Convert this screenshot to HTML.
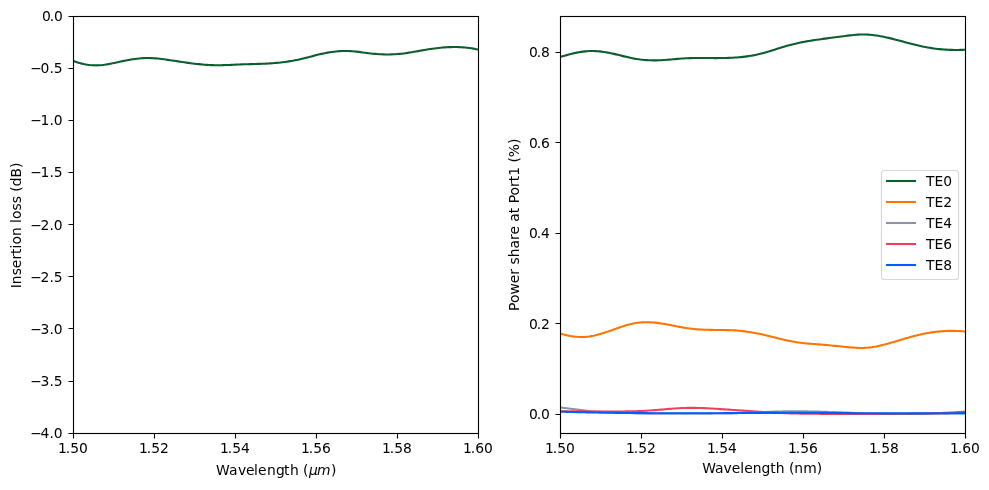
<!DOCTYPE html>
<html lang="en"><head><meta charset="utf-8"><title>Insertion loss and power share</title>
<style>html,body{margin:0;padding:0;background:#fff}body{width:989px;height:490px;overflow:hidden}svg{display:block}text{font-family:"DejaVu Sans","Liberation Sans",sans-serif;font-size:13.889px;fill:#000}.i{font-style:oblique}</style></head><body>
<svg width="989" height="490" viewBox="0 0 989 490">
<rect width="989" height="490" fill="#fff"/>
<defs><clipPath id="cl"><rect x="73" y="16" width="405" height="417"/></clipPath><clipPath id="cr"><rect x="560" y="16" width="405" height="417"/></clipPath></defs>
<g fill="none" stroke-width="2.083" stroke-linejoin="round" stroke-linecap="butt">
<path clip-path="url(#cl)" stroke="#0b5e2e" d="M71.5 60.15 L73.55 60.95 L75.6 61.74 L77.65 62.45 L79.7 63.08 L81.75 63.63 L83.8 64.1 L85.85 64.5 L87.9 64.81 L89.95 65.05 L92 65.22 L94.05 65.31 L96.1 65.34 L98.15 65.29 L100.2 65.18 L102.25 65 L104.3 64.76 L106.35 64.46 L108.4 64.12 L110.45 63.75 L112.51 63.34 L114.56 62.91 L116.61 62.47 L118.66 62.02 L120.71 61.57 L122.76 61.13 L124.81 60.71 L126.86 60.3 L128.91 59.92 L130.96 59.56 L133.01 59.24 L135.06 58.94 L137.11 58.68 L139.16 58.46 L141.21 58.29 L143.26 58.15 L145.31 58.07 L147.36 58.03 L149.41 58.05 L151.46 58.12 L153.51 58.23 L155.56 58.39 L157.61 58.57 L159.66 58.79 L161.71 59.04 L163.76 59.3 L165.81 59.58 L167.86 59.87 L169.91 60.17 L171.96 60.47 L174.01 60.78 L176.06 61.08 L178.11 61.39 L180.16 61.7 L182.21 62.01 L184.26 62.31 L186.31 62.6 L188.36 62.89 L190.41 63.17 L192.46 63.44 L194.52 63.69 L196.57 63.93 L198.62 64.16 L200.67 64.37 L202.72 64.55 L204.77 64.72 L206.82 64.87 L208.87 64.99 L210.92 65.09 L212.97 65.16 L215.02 65.2 L217.07 65.22 L219.12 65.21 L221.17 65.19 L223.22 65.14 L225.27 65.08 L227.32 65.01 L229.37 64.93 L231.42 64.84 L233.47 64.75 L235.52 64.66 L237.57 64.56 L239.62 64.48 L241.67 64.4 L243.72 64.32 L245.77 64.26 L247.82 64.2 L249.87 64.14 L251.92 64.09 L253.97 64.03 L256.02 63.98 L258.07 63.91 L260.12 63.85 L262.17 63.77 L264.22 63.69 L266.27 63.59 L268.32 63.49 L270.37 63.36 L272.42 63.22 L274.47 63.07 L276.53 62.89 L278.58 62.69 L280.63 62.48 L282.68 62.24 L284.73 61.98 L286.78 61.7 L288.83 61.39 L290.88 61.06 L292.93 60.7 L294.98 60.31 L297.03 59.9 L299.08 59.45 L301.13 58.98 L303.18 58.49 L305.23 57.98 L307.28 57.46 L309.33 56.93 L311.38 56.4 L313.43 55.87 L315.48 55.35 L317.53 54.84 L319.58 54.34 L321.63 53.87 L323.68 53.43 L325.73 53.02 L327.78 52.64 L329.83 52.29 L331.88 51.99 L333.93 51.72 L335.98 51.48 L338.03 51.3 L340.08 51.15 L342.13 51.05 L344.18 50.99 L346.23 50.99 L348.28 51.03 L350.33 51.13 L352.38 51.27 L354.43 51.45 L356.48 51.66 L358.54 51.89 L360.59 52.15 L362.64 52.41 L364.69 52.68 L366.74 52.95 L368.79 53.21 L370.84 53.45 L372.89 53.68 L374.94 53.88 L376.99 54.05 L379.04 54.19 L381.09 54.3 L383.14 54.38 L385.19 54.43 L387.24 54.45 L389.29 54.44 L391.34 54.39 L393.39 54.32 L395.44 54.21 L397.49 54.06 L399.54 53.89 L401.59 53.68 L403.64 53.43 L405.69 53.16 L407.74 52.86 L409.79 52.53 L411.84 52.2 L413.89 51.84 L415.94 51.48 L417.99 51.11 L420.04 50.74 L422.09 50.38 L424.14 50.01 L426.19 49.66 L428.24 49.32 L430.29 49 L432.34 48.7 L434.39 48.42 L436.44 48.16 L438.49 47.93 L440.55 47.72 L442.6 47.54 L444.65 47.39 L446.7 47.26 L448.75 47.16 L450.8 47.1 L452.85 47.06 L454.9 47.05 L456.95 47.08 L459 47.15 L461.05 47.24 L463.1 47.38 L465.15 47.55 L467.2 47.75 L469.25 48 L471.3 48.29 L473.35 48.61 L475.4 48.98 L477.45 49.4 L479.5 49.84"/>
<g clip-path="url(#cr)">
<path stroke="#0b5e2e" d="M558.5 57.37 L560.55 56.8 L562.6 56.24 L564.65 55.67 L566.7 55.12 L568.75 54.58 L570.8 54.05 L572.85 53.55 L574.9 53.08 L576.95 52.64 L579 52.25 L581.05 51.9 L583.1 51.6 L585.15 51.36 L587.2 51.18 L589.25 51.06 L591.3 51.01 L593.35 51.03 L595.4 51.1 L597.45 51.23 L599.51 51.41 L601.56 51.64 L603.61 51.92 L605.66 52.24 L607.71 52.6 L609.76 53 L611.81 53.43 L613.86 53.89 L615.91 54.36 L617.96 54.86 L620.01 55.36 L622.06 55.87 L624.11 56.37 L626.16 56.86 L628.21 57.34 L630.26 57.8 L632.31 58.22 L634.36 58.62 L636.41 58.97 L638.46 59.28 L640.51 59.56 L642.56 59.79 L644.61 59.98 L646.66 60.13 L648.71 60.25 L650.76 60.33 L652.81 60.37 L654.86 60.38 L656.91 60.35 L658.96 60.29 L661.01 60.2 L663.06 60.08 L665.11 59.95 L667.16 59.79 L669.21 59.63 L671.26 59.45 L673.31 59.27 L675.36 59.09 L677.41 58.91 L679.46 58.74 L681.52 58.58 L683.57 58.44 L685.62 58.32 L687.67 58.23 L689.72 58.15 L691.77 58.1 L693.82 58.06 L695.87 58.03 L697.92 58.02 L699.97 58.01 L702.02 58.02 L704.07 58.03 L706.12 58.04 L708.17 58.06 L710.22 58.07 L712.27 58.08 L714.32 58.09 L716.37 58.09 L718.42 58.08 L720.47 58.07 L722.52 58.04 L724.57 58.01 L726.62 57.95 L728.67 57.89 L730.72 57.81 L732.77 57.7 L734.82 57.58 L736.87 57.44 L738.92 57.28 L740.97 57.09 L743.02 56.88 L745.07 56.64 L747.12 56.37 L749.17 56.07 L751.22 55.73 L753.27 55.37 L755.32 54.97 L757.37 54.53 L759.42 54.06 L761.47 53.55 L763.53 53 L765.58 52.42 L767.63 51.81 L769.68 51.19 L771.73 50.55 L773.78 49.89 L775.83 49.24 L777.88 48.58 L779.93 47.93 L781.98 47.28 L784.03 46.66 L786.08 46.05 L788.13 45.47 L790.18 44.92 L792.23 44.4 L794.28 43.9 L796.33 43.42 L798.38 42.98 L800.43 42.55 L802.48 42.14 L804.53 41.75 L806.58 41.38 L808.63 41.03 L810.68 40.69 L812.73 40.37 L814.78 40.05 L816.83 39.75 L818.88 39.46 L820.93 39.18 L822.98 38.9 L825.03 38.62 L827.08 38.35 L829.13 38.09 L831.18 37.82 L833.23 37.55 L835.28 37.29 L837.33 37.02 L839.38 36.74 L841.43 36.46 L843.48 36.18 L845.54 35.91 L847.59 35.65 L849.64 35.4 L851.69 35.18 L853.74 34.97 L855.79 34.8 L857.84 34.66 L859.89 34.56 L861.94 34.5 L863.99 34.49 L866.04 34.53 L868.09 34.63 L870.14 34.78 L872.19 34.97 L874.24 35.21 L876.29 35.49 L878.34 35.81 L880.39 36.16 L882.44 36.55 L884.49 36.97 L886.54 37.41 L888.59 37.88 L890.64 38.37 L892.69 38.88 L894.74 39.4 L896.79 39.94 L898.84 40.48 L900.89 41.03 L902.94 41.59 L904.99 42.14 L907.04 42.7 L909.09 43.25 L911.14 43.79 L913.19 44.31 L915.24 44.83 L917.29 45.33 L919.34 45.8 L921.39 46.26 L923.44 46.69 L925.49 47.09 L927.55 47.46 L929.6 47.81 L931.65 48.13 L933.7 48.43 L935.75 48.69 L937.8 48.93 L939.85 49.15 L941.9 49.34 L943.95 49.5 L946 49.64 L948.05 49.75 L950.1 49.84 L952.15 49.91 L954.2 49.94 L956.25 49.96 L958.3 49.95 L960.35 49.91 L962.4 49.85 L964.45 49.77 L966.5 49.67"/>
<path stroke="#ff7500" d="M558.5 333.28 L560.55 333.8 L562.6 334.32 L564.65 334.81 L566.7 335.27 L568.75 335.68 L570.8 336.05 L572.85 336.36 L574.9 336.62 L576.95 336.82 L579 336.95 L581.05 337.01 L583.1 337 L585.15 336.91 L587.2 336.73 L589.25 336.47 L591.3 336.14 L593.35 335.75 L595.4 335.29 L597.45 334.78 L599.51 334.22 L601.56 333.62 L603.61 332.99 L605.66 332.32 L607.71 331.62 L609.76 330.91 L611.81 330.19 L613.86 329.46 L615.91 328.73 L617.96 328.01 L620.01 327.3 L622.06 326.62 L624.11 325.96 L626.16 325.34 L628.21 324.76 L630.26 324.23 L632.31 323.75 L634.36 323.34 L636.41 322.99 L638.46 322.72 L640.51 322.51 L642.56 322.36 L644.61 322.27 L646.66 322.24 L648.71 322.27 L650.76 322.35 L652.81 322.47 L654.86 322.64 L656.91 322.86 L658.96 323.11 L661.01 323.41 L663.06 323.73 L665.11 324.08 L667.16 324.46 L669.21 324.85 L671.26 325.25 L673.31 325.66 L675.36 326.08 L677.41 326.48 L679.46 326.88 L681.52 327.27 L683.57 327.63 L685.62 327.97 L687.67 328.28 L689.72 328.55 L691.77 328.79 L693.82 329 L695.87 329.19 L697.92 329.34 L699.97 329.47 L702.02 329.58 L704.07 329.67 L706.12 329.75 L708.17 329.81 L710.22 329.85 L712.27 329.89 L714.32 329.92 L716.37 329.95 L718.42 329.97 L720.47 329.99 L722.52 330.02 L724.57 330.05 L726.62 330.09 L728.67 330.15 L730.72 330.22 L732.77 330.3 L734.82 330.41 L736.87 330.55 L738.92 330.71 L740.97 330.91 L743.02 331.13 L745.07 331.39 L747.12 331.67 L749.17 331.97 L751.22 332.3 L753.27 332.66 L755.32 333.03 L757.37 333.43 L759.42 333.85 L761.47 334.28 L763.53 334.73 L765.58 335.2 L767.63 335.68 L769.68 336.18 L771.73 336.68 L773.78 337.19 L775.83 337.7 L777.88 338.21 L779.93 338.72 L781.98 339.21 L784.03 339.7 L786.08 340.17 L788.13 340.62 L790.18 341.06 L792.23 341.46 L794.28 341.84 L796.33 342.19 L798.38 342.5 L800.43 342.78 L802.48 343.02 L804.53 343.24 L806.58 343.44 L808.63 343.61 L810.68 343.77 L812.73 343.93 L814.78 344.07 L816.83 344.22 L818.88 344.37 L820.93 344.52 L822.98 344.68 L825.03 344.86 L827.08 345.05 L829.13 345.25 L831.18 345.46 L833.23 345.67 L835.28 345.89 L837.33 346.1 L839.38 346.32 L841.43 346.54 L843.48 346.75 L845.54 346.95 L847.59 347.15 L849.64 347.34 L851.69 347.51 L853.74 347.66 L855.79 347.78 L857.84 347.87 L859.89 347.92 L861.94 347.93 L863.99 347.89 L866.04 347.79 L868.09 347.64 L870.14 347.42 L872.19 347.14 L874.24 346.81 L876.29 346.44 L878.34 346.02 L880.39 345.56 L882.44 345.07 L884.49 344.55 L886.54 344 L888.59 343.44 L890.64 342.86 L892.69 342.26 L894.74 341.66 L896.79 341.05 L898.84 340.43 L900.89 339.82 L902.94 339.21 L904.99 338.6 L907.04 338 L909.09 337.41 L911.14 336.84 L913.19 336.28 L915.24 335.75 L917.29 335.23 L919.34 334.75 L921.39 334.29 L923.44 333.85 L925.49 333.45 L927.55 333.07 L929.6 332.72 L931.65 332.4 L933.7 332.11 L935.75 331.84 L937.8 331.61 L939.85 331.41 L941.9 331.24 L943.95 331.1 L946 330.99 L948.05 330.91 L950.1 330.87 L952.15 330.86 L954.2 330.88 L956.25 330.94 L958.3 331.03 L960.35 331.16 L962.4 331.32 L964.45 331.52 L966.5 331.74"/>
<path stroke="#8e92a6" d="M558.5 407.19 L560.55 407.45 L562.6 407.7 L564.65 407.97 L566.7 408.23 L568.75 408.51 L570.8 408.78 L572.85 409.05 L574.9 409.32 L576.95 409.59 L579 409.86 L581.05 410.12 L583.1 410.37 L585.15 410.61 L587.2 410.83 L589.25 411.05 L591.3 411.25 L593.35 411.43 L595.4 411.6 L597.45 411.75 L599.51 411.89 L601.56 412.02 L603.61 412.14 L605.66 412.25 L607.71 412.34 L609.76 412.43 L611.81 412.51 L613.86 412.59 L615.91 412.66 L617.96 412.72 L620.01 412.78 L622.06 412.84 L624.11 412.9 L626.16 412.95 L628.21 413 L630.26 413.05 L632.31 413.09 L634.36 413.14 L636.41 413.18 L638.46 413.21 L640.51 413.25 L642.56 413.28 L644.61 413.32 L646.66 413.35 L648.71 413.37 L650.76 413.4 L652.81 413.42 L654.86 413.44 L656.91 413.46 L658.96 413.48 L661.01 413.49 L663.06 413.51 L665.11 413.52 L667.16 413.53 L669.21 413.53 L671.26 413.54 L673.31 413.54 L675.36 413.55 L677.41 413.55 L679.46 413.55 L681.52 413.54 L683.57 413.54 L685.62 413.54 L687.67 413.53 L689.72 413.52 L691.77 413.51 L693.82 413.5 L695.87 413.49 L697.92 413.47 L699.97 413.46 L702.02 413.44 L704.07 413.43 L706.12 413.41 L708.17 413.39 L710.22 413.37 L712.27 413.35 L714.32 413.32 L716.37 413.3 L718.42 413.28 L720.47 413.25 L722.52 413.22 L724.57 413.2 L726.62 413.17 L728.67 413.14 L730.72 413.1 L732.77 413.07 L734.82 413.03 L736.87 412.98 L738.92 412.94 L740.97 412.89 L743.02 412.83 L745.07 412.77 L747.12 412.7 L749.17 412.63 L751.22 412.55 L753.27 412.47 L755.32 412.38 L757.37 412.29 L759.42 412.2 L761.47 412.11 L763.53 412.02 L765.58 411.93 L767.63 411.85 L769.68 411.77 L771.73 411.7 L773.78 411.64 L775.83 411.58 L777.88 411.53 L779.93 411.48 L781.98 411.44 L784.03 411.41 L786.08 411.38 L788.13 411.36 L790.18 411.35 L792.23 411.34 L794.28 411.33 L796.33 411.33 L798.38 411.34 L800.43 411.35 L802.48 411.36 L804.53 411.39 L806.58 411.41 L808.63 411.44 L810.68 411.47 L812.73 411.51 L814.78 411.55 L816.83 411.6 L818.88 411.65 L820.93 411.7 L822.98 411.76 L825.03 411.82 L827.08 411.88 L829.13 411.95 L831.18 412.02 L833.23 412.09 L835.28 412.16 L837.33 412.24 L839.38 412.32 L841.43 412.4 L843.48 412.49 L845.54 412.57 L847.59 412.66 L849.64 412.75 L851.69 412.84 L853.74 412.93 L855.79 413.02 L857.84 413.11 L859.89 413.2 L861.94 413.28 L863.99 413.37 L866.04 413.44 L868.09 413.51 L870.14 413.58 L872.19 413.64 L874.24 413.69 L876.29 413.74 L878.34 413.78 L880.39 413.81 L882.44 413.84 L884.49 413.87 L886.54 413.89 L888.59 413.9 L890.64 413.92 L892.69 413.93 L894.74 413.93 L896.79 413.94 L898.84 413.94 L900.89 413.94 L902.94 413.94 L904.99 413.93 L907.04 413.93 L909.09 413.92 L911.14 413.91 L913.19 413.9 L915.24 413.89 L917.29 413.88 L919.34 413.87 L921.39 413.86 L923.44 413.84 L925.49 413.82 L927.55 413.81 L929.6 413.79 L931.65 413.77 L933.7 413.75 L935.75 413.73 L937.8 413.71 L939.85 413.69 L941.9 413.67 L943.95 413.65 L946 413.62 L948.05 413.6 L950.1 413.58 L952.15 413.56 L954.2 413.53 L956.25 413.51 L958.3 413.48 L960.35 413.46 L962.4 413.44 L964.45 413.41 L966.5 413.39"/>
<path stroke="#f03e5c" d="M558.5 411.19 L560.55 411.21 L562.6 411.23 L564.65 411.24 L566.7 411.26 L568.75 411.28 L570.8 411.3 L572.85 411.32 L574.9 411.33 L576.95 411.35 L579 411.37 L581.05 411.38 L583.1 411.4 L585.15 411.42 L587.2 411.43 L589.25 411.44 L591.3 411.46 L593.35 411.47 L595.4 411.48 L597.45 411.49 L599.51 411.49 L601.56 411.5 L603.61 411.51 L605.66 411.51 L607.71 411.51 L609.76 411.51 L611.81 411.5 L613.86 411.5 L615.91 411.49 L617.96 411.48 L620.01 411.47 L622.06 411.45 L624.11 411.43 L626.16 411.41 L628.21 411.38 L630.26 411.34 L632.31 411.3 L634.36 411.25 L636.41 411.19 L638.46 411.11 L640.51 411.03 L642.56 410.93 L644.61 410.83 L646.66 410.7 L648.71 410.57 L650.76 410.43 L652.81 410.28 L654.86 410.12 L656.91 409.96 L658.96 409.79 L661.01 409.61 L663.06 409.43 L665.11 409.25 L667.16 409.07 L669.21 408.9 L671.26 408.73 L673.31 408.57 L675.36 408.42 L677.41 408.29 L679.46 408.17 L681.52 408.07 L683.57 407.99 L685.62 407.92 L687.67 407.87 L689.72 407.85 L691.77 407.84 L693.82 407.85 L695.87 407.87 L697.92 407.92 L699.97 407.97 L702.02 408.04 L704.07 408.13 L706.12 408.22 L708.17 408.33 L710.22 408.44 L712.27 408.56 L714.32 408.69 L716.37 408.82 L718.42 408.96 L720.47 409.1 L722.52 409.24 L724.57 409.38 L726.62 409.52 L728.67 409.66 L730.72 409.8 L732.77 409.94 L734.82 410.08 L736.87 410.22 L738.92 410.35 L740.97 410.49 L743.02 410.63 L745.07 410.76 L747.12 410.9 L749.17 411.04 L751.22 411.17 L753.27 411.31 L755.32 411.44 L757.37 411.58 L759.42 411.72 L761.47 411.85 L763.53 411.99 L765.58 412.12 L767.63 412.25 L769.68 412.38 L771.73 412.51 L773.78 412.63 L775.83 412.74 L777.88 412.84 L779.93 412.94 L781.98 413.03 L784.03 413.12 L786.08 413.2 L788.13 413.27 L790.18 413.34 L792.23 413.4 L794.28 413.46 L796.33 413.51 L798.38 413.56 L800.43 413.6 L802.48 413.64 L804.53 413.68 L806.58 413.71 L808.63 413.74 L810.68 413.76 L812.73 413.78 L814.78 413.8 L816.83 413.82 L818.88 413.83 L820.93 413.85 L822.98 413.86 L825.03 413.87 L827.08 413.88 L829.13 413.89 L831.18 413.89 L833.23 413.9 L835.28 413.91 L837.33 413.92 L839.38 413.92 L841.43 413.93 L843.48 413.93 L845.54 413.94 L847.59 413.94 L849.64 413.94 L851.69 413.95 L853.74 413.95 L855.79 413.95 L857.84 413.95 L859.89 413.95 L861.94 413.95 L863.99 413.95 L866.04 413.95 L868.09 413.94 L870.14 413.94 L872.19 413.93 L874.24 413.93 L876.29 413.92 L878.34 413.91 L880.39 413.9 L882.44 413.89 L884.49 413.88 L886.54 413.87 L888.59 413.86 L890.64 413.85 L892.69 413.83 L894.74 413.82 L896.79 413.8 L898.84 413.78 L900.89 413.76 L902.94 413.74 L904.99 413.72 L907.04 413.7 L909.09 413.67 L911.14 413.65 L913.19 413.62 L915.24 413.59 L917.29 413.56 L919.34 413.53 L921.39 413.5 L923.44 413.46 L925.49 413.42 L927.55 413.37 L929.6 413.33 L931.65 413.27 L933.7 413.22 L935.75 413.16 L937.8 413.09 L939.85 413.02 L941.9 412.95 L943.95 412.86 L946 412.78 L948.05 412.68 L950.1 412.58 L952.15 412.48 L954.2 412.36 L956.25 412.24 L958.3 412.11 L960.35 411.98 L962.4 411.83 L964.45 411.68 L966.5 411.52"/>
<path stroke="#005eff" d="M558.5 411.63 L560.55 411.69 L562.6 411.75 L564.65 411.81 L566.7 411.86 L568.75 411.92 L570.8 411.97 L572.85 412.03 L574.9 412.08 L576.95 412.13 L579 412.18 L581.05 412.23 L583.1 412.27 L585.15 412.32 L587.2 412.36 L589.25 412.41 L591.3 412.45 L593.35 412.49 L595.4 412.53 L597.45 412.57 L599.51 412.6 L601.56 412.64 L603.61 412.67 L605.66 412.71 L607.71 412.74 L609.76 412.77 L611.81 412.8 L613.86 412.83 L615.91 412.86 L617.96 412.89 L620.01 412.91 L622.06 412.94 L624.11 412.96 L626.16 412.99 L628.21 413.01 L630.26 413.03 L632.31 413.05 L634.36 413.07 L636.41 413.09 L638.46 413.1 L640.51 413.12 L642.56 413.14 L644.61 413.15 L646.66 413.16 L648.71 413.18 L650.76 413.19 L652.81 413.2 L654.86 413.21 L656.91 413.22 L658.96 413.23 L661.01 413.24 L663.06 413.25 L665.11 413.25 L667.16 413.26 L669.21 413.26 L671.26 413.27 L673.31 413.27 L675.36 413.27 L677.41 413.27 L679.46 413.28 L681.52 413.28 L683.57 413.28 L685.62 413.28 L687.67 413.27 L689.72 413.27 L691.77 413.27 L693.82 413.27 L695.87 413.26 L697.92 413.26 L699.97 413.26 L702.02 413.25 L704.07 413.24 L706.12 413.24 L708.17 413.23 L710.22 413.22 L712.27 413.22 L714.32 413.21 L716.37 413.2 L718.42 413.19 L720.47 413.18 L722.52 413.17 L724.57 413.16 L726.62 413.15 L728.67 413.14 L730.72 413.13 L732.77 413.11 L734.82 413.1 L736.87 413.09 L738.92 413.08 L740.97 413.06 L743.02 413.05 L745.07 413.04 L747.12 413.02 L749.17 413.01 L751.22 413 L753.27 412.98 L755.32 412.97 L757.37 412.96 L759.42 412.94 L761.47 412.93 L763.53 412.92 L765.58 412.91 L767.63 412.9 L769.68 412.88 L771.73 412.87 L773.78 412.86 L775.83 412.85 L777.88 412.84 L779.93 412.84 L781.98 412.83 L784.03 412.82 L786.08 412.81 L788.13 412.81 L790.18 412.8 L792.23 412.8 L794.28 412.8 L796.33 412.79 L798.38 412.79 L800.43 412.79 L802.48 412.79 L804.53 412.8 L806.58 412.8 L808.63 412.8 L810.68 412.81 L812.73 412.82 L814.78 412.82 L816.83 412.83 L818.88 412.84 L820.93 412.86 L822.98 412.87 L825.03 412.88 L827.08 412.9 L829.13 412.92 L831.18 412.93 L833.23 412.95 L835.28 412.97 L837.33 412.99 L839.38 413.01 L841.43 413.03 L843.48 413.05 L845.54 413.07 L847.59 413.09 L849.64 413.11 L851.69 413.13 L853.74 413.15 L855.79 413.17 L857.84 413.19 L859.89 413.21 L861.94 413.22 L863.99 413.24 L866.04 413.26 L868.09 413.27 L870.14 413.28 L872.19 413.3 L874.24 413.31 L876.29 413.32 L878.34 413.33 L880.39 413.34 L882.44 413.35 L884.49 413.36 L886.54 413.37 L888.59 413.38 L890.64 413.38 L892.69 413.39 L894.74 413.39 L896.79 413.4 L898.84 413.4 L900.89 413.4 L902.94 413.4 L904.99 413.4 L907.04 413.4 L909.09 413.4 L911.14 413.4 L913.19 413.4 L915.24 413.4 L917.29 413.39 L919.34 413.39 L921.39 413.38 L923.44 413.38 L925.49 413.37 L927.55 413.36 L929.6 413.35 L931.65 413.34 L933.7 413.33 L935.75 413.32 L937.8 413.31 L939.85 413.3 L941.9 413.29 L943.95 413.27 L946 413.26 L948.05 413.24 L950.1 413.23 L952.15 413.21 L954.2 413.19 L956.25 413.17 L958.3 413.15 L960.35 413.13 L962.4 413.11 L964.45 413.09 L966.5 413.07"/>
</g></g>
<g stroke="#000" stroke-width="1.111" fill="none">
<path d="M68.5 16.5H73.5M68.5 68.5H73.5M68.5 120.5H73.5M68.5 172.5H73.5M68.5 224.5H73.5M68.5 276.5H73.5M68.5 328.5H73.5M68.5 381.5H73.5M68.5 433.5H73.5M555.5 414.5H560.5M555.5 323.5H560.5M555.5 233.5H560.5M555.5 142.5H560.5M555.5 52.5H560.5M73.5 433.5V438.5M154.5 433.5V438.5M235.5 433.5V438.5M316.5 433.5V438.5M397.5 433.5V438.5M478.5 433.5V438.5M560.5 433.5V438.5M641.5 433.5V438.5M722.5 433.5V438.5M803.5 433.5V438.5M884.5 433.5V438.5M965.5 433.5V438.5"/>
<rect x="73.5" y="16.5" width="405.0" height="417.0"/>
<rect x="560.5" y="16.5" width="405.0" height="417.0"/>
</g>
<text y="20.98" x="41.89 49.73 53.99">0.0</text>
<text y="72.92"><tspan x="30.25">−</tspan><tspan x="40.59">0.5</tspan></text>
<text y="124.86"><tspan x="30.25">−</tspan><tspan x="40.59">1.0</tspan></text>
<text y="176.86"><tspan x="30.25">−</tspan><tspan x="40.59">1.5</tspan></text>
<text y="229.88"><tspan x="30.25">−</tspan><tspan x="40.59">2.0</tspan></text>
<text y="281.86"><tspan x="30.25">−</tspan><tspan x="40.59">2.5</tspan></text>
<text y="333.86"><tspan x="30.25">−</tspan><tspan x="40.59">3.0</tspan></text>
<text y="385.84"><tspan x="30.25">−</tspan><tspan x="40.59">3.5</tspan></text>
<text y="437.82"><tspan x="30.25">−</tspan><tspan x="40.59">4.0</tspan></text>
<text y="418.98" x="528.92 536.76 541.02">0.0</text>
<text y="328.88" x="528.92 536.76 541.02">0.2</text>
<text y="237.85" x="528.92 536.76 541.02">0.4</text>
<text y="148.01" x="528.92 536.76 541.02">0.6</text>
<text y="56.95" x="528.92 536.76 541.02">0.8</text>
<text y="453.11"><tspan x="58.06">1</tspan><tspan x="65.79">.50</tspan></text>
<text y="453.06"><tspan x="138.99">1</tspan><tspan x="146.72">.52</tspan></text>
<text y="453.04"><tspan x="220.02">1</tspan><tspan x="227.75">.54</tspan></text>
<text y="453.15"><tspan x="301.07">1</tspan><tspan x="308.8">.56</tspan></text>
<text y="453.09"><tspan x="382.02">1</tspan><tspan x="389.75">.58</tspan></text>
<text y="453.14"><tspan x="463.1">1</tspan><tspan x="470.83">.60</tspan></text>
<text y="453.11"><tspan x="545.06">1</tspan><tspan x="552.79">.50</tspan></text>
<text y="453.06"><tspan x="625.99">1</tspan><tspan x="633.72">.52</tspan></text>
<text y="453.04"><tspan x="707.02">1</tspan><tspan x="714.75">.54</tspan></text>
<text y="453.15"><tspan x="788.07">1</tspan><tspan x="795.8">.56</tspan></text>
<text y="453.09"><tspan x="869.02">1</tspan><tspan x="876.75">.58</tspan></text>
<text y="453.14"><tspan x="950.1">1</tspan><tspan x="957.83">.60</tspan></text>
<text x="216 229 238 246 254 258 267 276 284 290 299 303 309 317 331" y="475.0">Wavelength (<tspan class="i">μm</tspan>)</text>
<text x="762.17" y="473.04" text-anchor="middle">Wavelength (nm)</text>
<text transform="translate(21.04 225.39) rotate(-90)" text-anchor="middle">Insertion loss (dB)</text>
<text transform="translate(519.02 224.73) rotate(-90)" text-anchor="middle">Power share at Port1 (%)</text>
<rect x="881.5" y="170.5" width="77" height="109" rx="2.78" ry="2.78" fill="#fff" fill-opacity="0.8" stroke="#ccc" stroke-opacity="0.8" stroke-width="1.111"/>
<g fill="none" stroke-width="2.083">
<path stroke="#0b5e2e" d="M885.96 181H916.04"/>
<path stroke="#ff7500" d="M885.96 202H916.04"/>
<path stroke="#8e92a6" d="M885.96 223H916.04"/>
<path stroke="#f03e5c" d="M885.96 244H916.04"/>
<path stroke="#005eff" d="M885.96 265H916.04"/>
</g>
<text x="926.12" y="186.1">TE0</text>
<text x="926.06" y="206.96">TE2</text>
<text x="926.04" y="227.88">TE4</text>
<text x="926.0" y="248.94">TE6</text>
<text x="926.05" y="269.84">TE8</text>
</svg></body></html>
